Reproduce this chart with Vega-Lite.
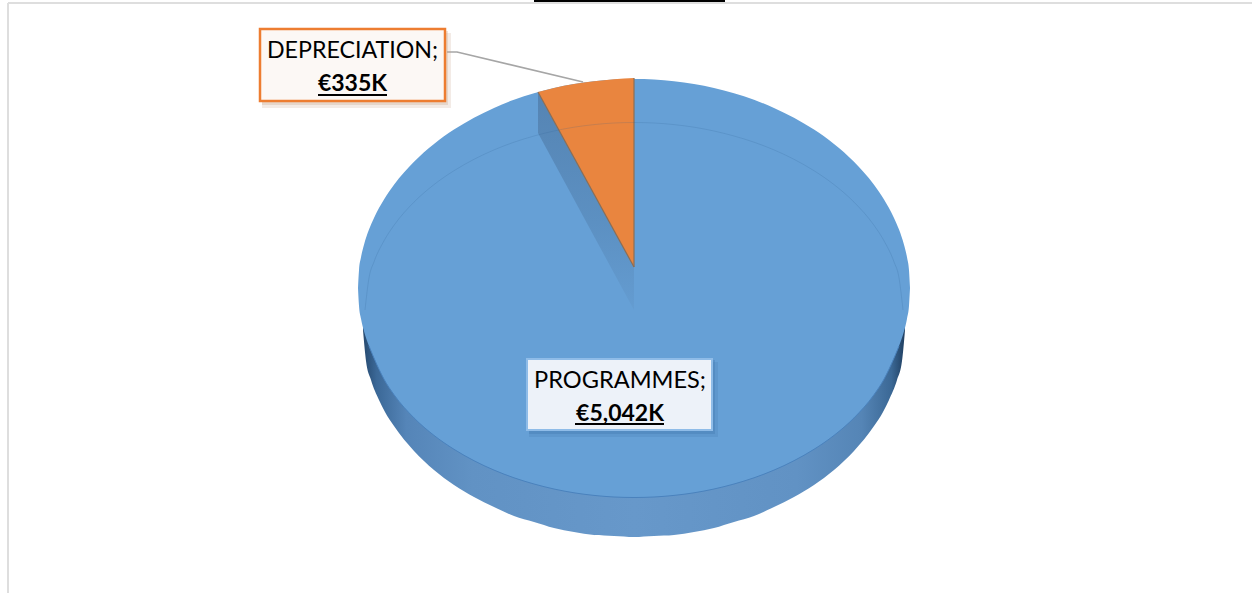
{
"$schema":"https://vega.github.io/schema/vega-lite/v6.json",
"width":1252,"height":593,"autosize":{"type":"none"},"padding":0,
"background":"white",
"config":{"view":{"stroke":null}},
"encoding":{
"x":{"field":"dx","type":"quantitative","scale":{"domain":[-634,618],"nice":false,"zero":false},"axis":null},
"y":{"field":"h","type":"quantitative","scale":{"domain":[-305,288],"nice":false,"zero":false},"axis":null}
},
"datasets":{
"outline":[
{"dx":-276,"h":0,"h2":0},{"dx":-275,"h":17.7,"h2":-17.7},{"dx":-273,"h":30.7,"h2":-30.7},{"dx":-270,"h":43.3,"h2":-43.3},{"dx":-265,"h":58.4,"h2":-58},{"dx":-260,"h":70.1,"h2":-70.1},{"dx":-250,"h":88.5,"h2":-91.2},{"dx":-240,"h":103.2,"h2":-106.7},{"dx":-220,"h":126.2,"h2":-129.9},{"dx":-200,"h":144,"h2":-147.4},{"dx":-180,"h":158.4,"h2":-161.3},{"dx":-160,"h":170.3,"h2":-172.7},{"dx":-140,"h":180.1,"h2":-182.1},{"dx":-120,"h":188.2,"h2":-189.8},{"dx":-100,"h":194.8,"h2":-196},{"dx":-80,"h":200,"h2":-201},{"dx":-60,"h":204,"h2":-204.8},{"dx":-40,"h":206.8,"h2":-207.4},{"dx":-20,"h":208.5,"h2":-209},{"dx":0,"h":209,"h2":-209.5},
{"dx":20,"h":208.5,"h2":-209},{"dx":40,"h":206.8,"h2":-207.4},{"dx":60,"h":204,"h2":-204.8},{"dx":80,"h":200,"h2":-201},{"dx":100,"h":194.8,"h2":-196},{"dx":120,"h":188.2,"h2":-189.8},{"dx":140,"h":180.1,"h2":-182.1},{"dx":160,"h":170.3,"h2":-172.7},{"dx":180,"h":158.4,"h2":-161.3},{"dx":200,"h":144,"h2":-147.4},{"dx":220,"h":126.2,"h2":-129.9},{"dx":240,"h":103.2,"h2":-106.7},{"dx":250,"h":88.5,"h2":-91.2},{"dx":260,"h":70.1,"h2":-70.1},{"dx":265,"h":58.4,"h2":-58},{"dx":270,"h":43.3,"h2":-43.3},{"dx":273,"h":30.7,"h2":-30.7},{"dx":275,"h":17.7,"h2":-17.7},{"dx":276,"h":0,"h2":0}
],
"wall":[
{"dx":-271,"h":-42,"h2":-42},{"dx":-268,"h":-20,"h2":-73},{"dx":-263,"h":-20,"h2":-92},{"dx":-255,"h":-20,"h2":-112},{"dx":-249,"h":-20,"h2":-124},{"dx":-240,"h":-20,"h2":-138},{"dx":-220,"h":-20,"h2":-163},{"dx":-200,"h":-20,"h2":-182},{"dx":-180,"h":-20,"h2":-197},{"dx":-160,"h":-20,"h2":-209},{"dx":-140,"h":-20,"h2":-219},{"dx":-120,"h":-20,"h2":-228},{"dx":-100,"h":-20,"h2":-234},{"dx":-80,"h":-20,"h2":-240},{"dx":-60,"h":-20,"h2":-244},{"dx":-40,"h":-20,"h2":-247},{"dx":-20,"h":-20,"h2":-248},{"dx":0,"h":-20,"h2":-249},
{"dx":20,"h":-20,"h2":-248},{"dx":40,"h":-20,"h2":-247},{"dx":60,"h":-20,"h2":-244},{"dx":80,"h":-20,"h2":-240},{"dx":100,"h":-20,"h2":-234},{"dx":120,"h":-20,"h2":-228},{"dx":140,"h":-20,"h2":-219},{"dx":160,"h":-20,"h2":-209},{"dx":180,"h":-20,"h2":-197},{"dx":200,"h":-20,"h2":-182},{"dx":220,"h":-20,"h2":-163},{"dx":240,"h":-20,"h2":-138},{"dx":249,"h":-20,"h2":-124},{"dx":255,"h":-20,"h2":-112},{"dx":263,"h":-20,"h2":-92},{"dx":268,"h":-20,"h2":-73},{"dx":271,"h":-42,"h2":-42}
],
"bevel":[
{"dx":-269,"h":-22},{"dx":-265,"h":10.2},{"dx":-260,"h":26.1},{"dx":-250,"h":47.2},{"dx":-240,"h":62.7},{"dx":-220,"h":85.9},{"dx":-200,"h":103.4},{"dx":-180,"h":117.3},{"dx":-160,"h":128.7},{"dx":-140,"h":138.1},{"dx":-120,"h":145.8},{"dx":-100,"h":152},{"dx":-80,"h":157},{"dx":-60,"h":160.8},{"dx":-40,"h":163.4},{"dx":-20,"h":165},{"dx":0,"h":165.5},
{"dx":20,"h":165},{"dx":40,"h":163.4},{"dx":60,"h":160.8},{"dx":80,"h":157},{"dx":100,"h":152},{"dx":120,"h":145.8},{"dx":140,"h":138.1},{"dx":160,"h":128.7},{"dx":180,"h":117.3},{"dx":200,"h":103.4},{"dx":220,"h":85.9},{"dx":240,"h":62.7},{"dx":250,"h":47.2},{"dx":260,"h":26.1},{"dx":265,"h":10.2},{"dx":269,"h":-22}
],
"seam":[
{"dx":-265,"h":-58},{"dx":-260,"h":-70.1},{"dx":-250,"h":-91.2},{"dx":-240,"h":-106.7},{"dx":-220,"h":-129.9},{"dx":-200,"h":-147.4},{"dx":-180,"h":-161.3},{"dx":-160,"h":-172.7},{"dx":-140,"h":-182.1},{"dx":-120,"h":-189.8},{"dx":-100,"h":-196},{"dx":-80,"h":-201},{"dx":-60,"h":-204.8},{"dx":-40,"h":-207.4},{"dx":-20,"h":-209},{"dx":0,"h":-209.5},
{"dx":20,"h":-209},{"dx":40,"h":-207.4},{"dx":60,"h":-204.8},{"dx":80,"h":-201},{"dx":100,"h":-196},{"dx":120,"h":-189.8},{"dx":140,"h":-182.1},{"dx":160,"h":-172.7},{"dx":180,"h":-161.3},{"dx":200,"h":-147.4},{"dx":220,"h":-129.9},{"dx":240,"h":-106.7},{"dx":250,"h":-91.2},{"dx":260,"h":-70.1},{"dx":265,"h":-58}
],
"slice":[
{"dx":-96,"h":196,"h2":196},{"dx":-80,"h":200,"h2":166.8},{"dx":-60,"h":204,"h2":130.4},{"dx":-40,"h":206.8,"h2":93.9},{"dx":-20,"h":208.8,"h2":57.5},{"dx":0,"h":210,"h2":21}
]
},
"layer":[
{"data":{"values":[{"dx":-626,"dx2":618,"h":285}]},"mark":{"type":"rule","color":"#dedede","strokeWidth":2},"encoding":{"x2":{"field":"dx2"}}},
{"data":{"values":[{"dx":-626,"h":285,"h2":-305}]},"mark":{"type":"rule","color":"#dedede","strokeWidth":2},"encoding":{"y2":{"field":"h2"}}},
{"data":{"values":[{"dx":-100,"dx2":91,"h":288,"h2":286}]},"mark":{"type":"rect","color":"#000000"},"encoding":{"x2":{"field":"dx2"},"y2":{"field":"h2"}}},
{"data":{"name":"wall"},"mark":{"type":"area","interpolate":"monotone","orient":"vertical","color":{"gradient":"linear","x1":0,"y1":0,"x2":1,"y2":0,"stops":[{"offset":0,"color":"#26496f"},{"offset":0.025,"color":"#3b6897"},{"offset":0.08,"color":"#5585b8"},{"offset":0.2,"color":"#6192c4"},{"offset":0.5,"color":"#6798ca"},{"offset":0.8,"color":"#6192c4"},{"offset":0.92,"color":"#5585b6"},{"offset":0.975,"color":"#3b6895"},{"offset":1,"color":"#1f3e60"}]}},"encoding":{"y2":{"field":"h2"}}},
{"data":{"name":"outline"},"mark":{"type":"area","interpolate":"monotone","orient":"vertical","color":"#66a0d6"},"encoding":{"y2":{"field":"h2"}}},
{"data":{"values":[{"dx":-96,"h":196,"h2":155},{"dx":0,"h":21,"h2":-22}]},"mark":{"type":"area","orient":"vertical","color":{"gradient":"linear","x1":0,"y1":0,"x2":0,"y2":1,"stops":[{"offset":0,"color":"#5584b3"},{"offset":0.6,"color":"#5c90c2"},{"offset":1,"color":"#649cd1"}]}},"encoding":{"y2":{"field":"h2"}}},
{"data":{"name":"slice"},"mark":{"type":"area","interpolate":"monotone","orient":"vertical","color":"#e9853f"},"encoding":{"y2":{"field":"h2"}}},
{"data":{"values":[{"dx":-96,"h":196},{"dx":0,"h":21}]},"mark":{"type":"line","color":"#8c6e55","strokeWidth":1.2}},
{"data":{"values":[{"dx":0,"h":210,"h2":21}]},"mark":{"type":"rule","color":"#8c6e55","strokeWidth":1.2},"encoding":{"y2":{"field":"h2"}}},
{"data":{"name":"bevel"},"mark":{"type":"line","interpolate":"monotone","color":"#2f5f90","strokeWidth":1,"opacity":0.18}},
{"data":{"name":"seam"},"mark":{"type":"line","interpolate":"monotone","color":"#4a82bd","strokeWidth":1}},
{"data":{"values":[{"dx":-187,"h":236},{"dx":-177,"h":236},{"dx":-51,"h":206}]},"mark":{"type":"line","color":"#a6a6a6","strokeWidth":1.7}},
{"data":{"values":[{"dx":-372,"dx2":-183,"h":255,"h2":180}]},"mark":{"type":"rect","color":"#c9a58c","opacity":0.22},"encoding":{"x2":{"field":"dx2"},"y2":{"field":"h2"}}},
{"data":{"values":[{"dx":-372,"dx2":-186,"h":257,"h2":183}]},"mark":{"type":"rect","color":"#c9a58c","opacity":0.3},"encoding":{"x2":{"field":"dx2"},"y2":{"field":"h2"}}},
{"data":{"values":[{"dx":-105,"dx2":84,"h":-74,"h2":-149}]},"mark":{"type":"rect","color":"#3f74aa","opacity":0.2},"encoding":{"x2":{"field":"dx2"},"y2":{"field":"h2"}}},
{"data":{"values":[{"dx":-105,"dx2":81,"h":-72,"h2":-146}]},"mark":{"type":"rect","color":"#3f74aa","opacity":0.3},"encoding":{"x2":{"field":"dx2"},"y2":{"field":"h2"}}},
{"data":{"values":[{"dx":-374,"dx2":-189,"h":259,"h2":187}]},"mark":{"type":"rect","fill":"#fcf8f5","stroke":"#ed7d31","strokeWidth":2.5},"encoding":{"x2":{"field":"dx2"},"y2":{"field":"h2"}}},
{"data":{"values":[{"dx":-107,"dx2":78,"h":-71,"h2":-142}]},"mark":{"type":"rect","fill":"#edf2f9","stroke":"#8fbce8","strokeWidth":2},"encoding":{"x2":{"field":"dx2"},"y2":{"field":"h2"}}},
{"data":{"values":[{"dx":-316,"dx2":-247,"h":193},{"dx":-59,"dx2":30,"h":-136}]},"mark":{"type":"rule","color":"#000000","strokeWidth":2},"encoding":{"x2":{"field":"dx2"}}},
{"data":{"values":[{"t":"DEPRECIATION;","dx":-281.5,"h":229.7}]},"mark":{"type":"text","font":"Lato","fontSize":23.2,"color":"#000000","align":"center","baseline":"alphabetic"},"encoding":{"text":{"field":"t"}}},
{"data":{"values":[{"t":"PROGRAMMES;","dx":-14,"h":-100}]},"mark":{"type":"text","font":"Lato","fontSize":23.6,"color":"#000000","align":"center","baseline":"alphabetic"},"encoding":{"text":{"field":"t"}}},
{"data":{"values":[{"t":"€335K","dx":-281.5,"h":197},{"t":"€5,042K","dx":-14,"h":-133}]},"mark":{"type":"text","font":"Lato","fontSize":23,"fontWeight":"bold","color":"#000000","align":"center","baseline":"alphabetic"},"encoding":{"text":{"field":"t"}}}
]
}
